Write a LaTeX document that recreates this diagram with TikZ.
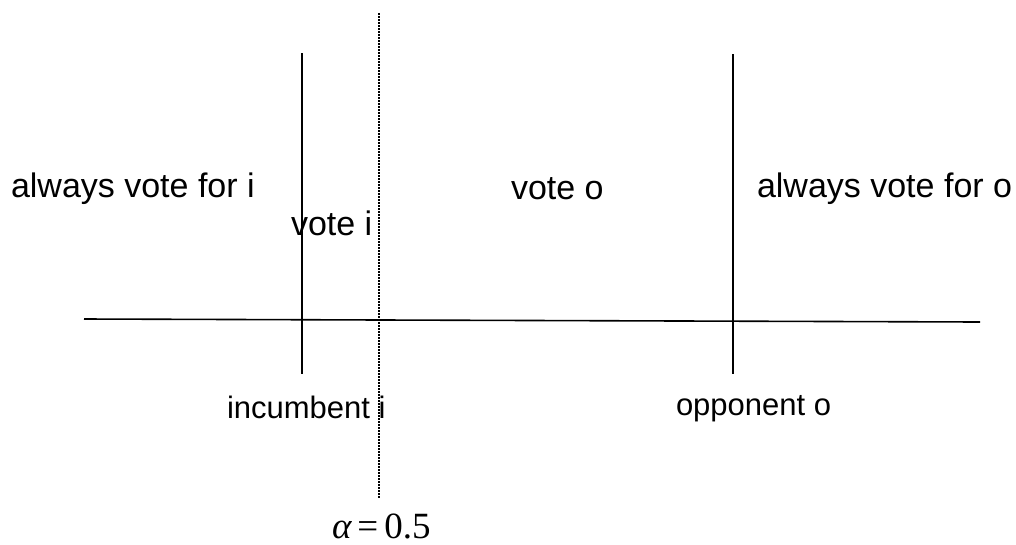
\documentclass[tikz,border=0pt]{standalone}
\usepackage{fontspec}
\setmainfont{Liberation Sans}
\newfontfamily\tnr{Liberation Serif}
\begin{document}
\begin{tikzpicture}[x=1pt,y=-1pt,
  lbl/.style={anchor=base west,inner sep=0pt,outer sep=0pt,font=\fontsize{34}{40}\selectfont},
  sublbl/.style={anchor=base west,inner sep=0pt,outer sep=0pt,font=\fontsize{31}{37}\selectfont},
  solidline/.style={line width=1.6pt,black},
  dotline/.style={line width=1.3pt,black,dash pattern=on 1.5pt off 1.5pt}]
\useasboundingbox (0,0) rectangle (1016,544);
% axis
\coordinate (axL) at (84,319);
\coordinate (axR) at (980,322);
\draw[solidline] (axL) -- (axR);
% incumbent marker
\coordinate (iT) at (302,53);
\coordinate (iB) at (302,374);
\draw[solidline] (iT) -- (iB);
% opponent marker
\coordinate (oT) at (733,54);
\coordinate (oB) at (733,374);
\draw[solidline] (oT) -- (oB);
% alpha line
\coordinate (aT) at (379,13);
\coordinate (aB) at (379,499);
\draw[dotline] (aT) -- (aB);
% labels
\node[lbl] (avi) at (11,197) {always vote for i};
\node[lbl] (vi) at (291,235) {vote i};
\node[lbl] (vo) at (511,199) {vote o};
\node[lbl] (avo) at (757,197) {always vote for o};
\node[sublbl] (inc) at (227,418) {incumbent i};
\node[sublbl] (opp) at (676,415) {opponent o};
\node[anchor=base west,inner sep=0pt,outer sep=0pt,font=\tnr\fontsize{37}{42}\selectfont] (alpha) at (332,538) {{\itshape α}\hspace{6pt}=\hspace{6pt}0.5};
\end{tikzpicture}
\end{document}
